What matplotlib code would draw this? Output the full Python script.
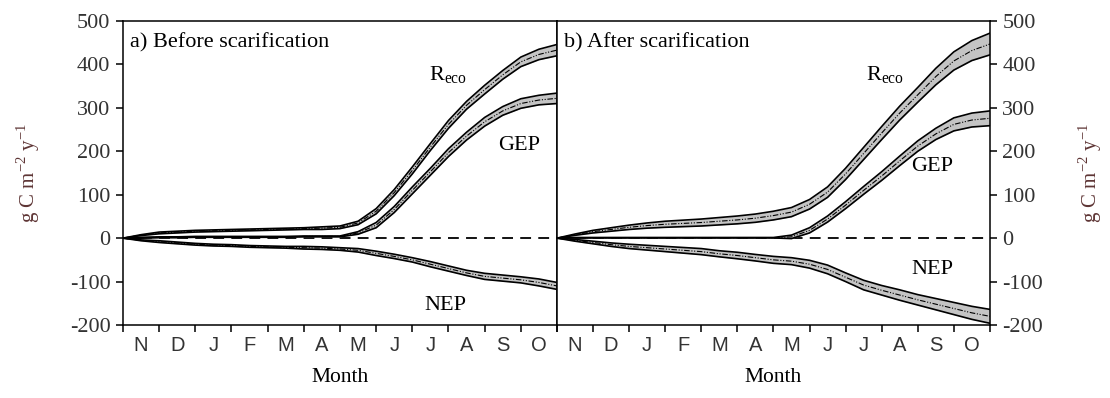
import numpy as np
import matplotlib
matplotlib.use("Agg")
import matplotlib.pyplot as plt

plt.rcParams['mathtext.fontset'] = 'custom'
plt.rcParams['mathtext.rm'] = 'Liberation Serif'
plt.rcParams['axes.unicode_minus'] = False

# month axis, half-month steps from start of November
months = np.arange(0, 12.5, 0.5)
month_labels = ['N', 'D', 'J', 'F', 'M', 'A', 'M', 'J', 'J', 'A', 'S', 'O']

# a) before scarification: cumulative mean and half-width of band
reco_a = [0, 7, 12, 14, 16, 17, 18, 19, 20, 21, 22, 23, 25, 35, 62, 105, 156,
          210, 262, 306, 342, 376, 406, 423, 433]
reco_a_err = [0, 1, 2, 2, 2, 2, 2, 2, 2, 2, 2, 3, 3, 4, 6, 7, 8, 8, 9, 9, 10,
              10, 11, 12, 13]
gep_a = [0, 1, 2, 2, 3, 3, 3, 3, 3, 3, 4, 4, 4, 12, 30, 66, 110, 153, 197,
         235, 268, 293, 310, 318, 322]
gep_a_err = [0, 1, 1, 1, 1, 1, 1, 1, 1, 1, 1, 1, 1, 3, 6, 7, 8, 8, 9, 9, 10,
             10, 11, 11, 12]
nep_a = [0, -5, -8, -11, -14, -16, -17, -19, -20, -21, -22, -23, -25, -28,
         -35, -42, -50, -60, -70, -80, -88, -92, -96, -102, -110]
nep_a_err = [0, 1, 2, 2, 2, 2, 2, 2, 2, 2, 3, 3, 3, 4, 5, 5, 5, 6, 6, 6, 7,
             7, 7, 8, 8]

# b) after scarification
reco_b = [0, 8, 15, 20, 25, 29, 32, 34, 36, 39, 42, 46, 52, 60, 78, 106, 148,
          195, 242, 288, 330, 372, 408, 432, 447]
reco_b_err = [0, 1.5, 3, 4, 5, 6, 7, 7.5, 8, 8.5, 9, 9.5, 10, 10.5, 11, 12,
              13, 14, 15, 16, 17, 19, 21, 23, 25]
gep_b = [0, 1, 1, 1, 1, 1, 1, 1, 1, 1, 1, 1, 1, 3, 18, 44, 76, 110, 143, 178,
         212, 240, 262, 272, 276]
gep_b_err = [0, 0.5, 0.5, 0.5, 0.5, 0.5, 0.5, 0.5, 0.5, 0.5, 0.5, 0.5, 0.5,
             4, 6, 7, 8, 9, 10, 11, 12, 13, 15, 16, 17]
nep_b = [0, -5, -10, -15, -19, -22, -25, -28, -31, -36, -40, -45, -50, -53,
         -60, -72, -90, -108, -120, -131, -142, -152, -162, -172, -180]
nep_b_err = [0, 2, 3, 4, 5, 5.5, 6, 6.5, 7, 7, 7.5, 7.5, 8, 8, 9, 10, 10, 11,
             11, 12, 12, 13, 14, 15, 16]

serif = 'Liberation Serif'
sans = 'Liberation Sans'
tick_col = '#333333'
label_col = '#5e3535'


def band(ax, mean, err):
    mean = np.array(mean, dtype=float)
    err = np.array(err, dtype=float)
    ax.fill_between(months, mean - err, mean + err, color='#c4c4c4', lw=0)
    ax.plot(months, mean + err, color='black', lw=1.2)
    ax.plot(months, mean - err, color='black', lw=1.2)
    ax.plot(months, mean, color='black', lw=0.8,
            linestyle=(0, (5, 1.5, 1, 1.5, 1, 1.5)))


fig = plt.figure(figsize=(11.1, 3.98), dpi=100)
ax1 = fig.add_axes([0.1108, 0.1834, 0.391, 0.7638])
ax2 = fig.add_axes([0.5018, 0.1834, 0.390, 0.7638])

for ax, series, title in [
        (ax1, [(reco_a, reco_a_err), (gep_a, gep_a_err), (nep_a, nep_a_err)],
         'a) Before scarification'),
        (ax2, [(reco_b, reco_b_err), (gep_b, gep_b_err), (nep_b, nep_b_err)],
         'b) After scarification')]:
    ax.axhline(0, color='black', lw=1.3, linestyle=(0, (6, 4)), zorder=1)
    for mean, err in series:
        band(ax, mean, err)
    ax.set_xlim(0, 12)
    ax.set_ylim(-200, 500)
    ax.set_xticks(np.arange(0, 13))
    ax.set_xticklabels([])
    ax.set_xticks(np.arange(0.5, 12), minor=True)
    ax.set_xticklabels(month_labels, minor=True, fontfamily=sans,
                       fontsize=14.5, color=tick_col)
    ax.tick_params(axis='x', which='major', direction='out', length=5,
                   width=1.1)
    ax.tick_params(axis='x', which='minor', length=0, pad=8)
    ax.set_yticks(np.arange(-200, 501, 100))
    for sp in ax.spines.values():
        sp.set_linewidth(1.1)
    ax.set_xlabel('Month', fontfamily=serif, fontsize=15.5, labelpad=9)
    ax.text(0.016, 0.93, title, transform=ax.transAxes, fontfamily=serif,
            fontsize=16, va='center', ha='left')

ax1.tick_params(axis='y', direction='out', length=5, width=1.1,
                labelsize=16, labelcolor=tick_col, pad=4)
for t in ax1.get_yticklabels():
    t.set_fontfamily(serif)
ax1.set_ylabel('g C m$^{\\mathrm{-2}}$ y$^{\\mathrm{-1}}$', fontfamily=serif,
               fontsize=15, color=label_col, labelpad=20)

ax2.yaxis.tick_right()
ax2.yaxis.set_label_position('right')
ax2.tick_params(axis='y', direction='out', length=5, width=1.1,
                labelsize=16, labelcolor=tick_col, left=False, pad=4)
for t in ax2.get_yticklabels():
    t.set_fontfamily(serif)
ax2.set_ylabel('g C m$^{\\mathrm{-2}}$ y$^{\\mathrm{-1}}$', fontfamily=serif,
               fontsize=15, color=label_col, labelpad=24, rotation=90)

# curve labels
ax1.text(9.0, 376, 'R$_{\\mathrm{eco}}$', fontfamily=serif, fontsize=16,
         ha='center', va='center')
ax1.text(10.95, 214, 'GEP', fontfamily=serif, fontsize=16, ha='center',
         va='center')
ax1.text(8.9, -154, 'NEP', fontfamily=serif, fontsize=16, ha='center',
         va='center')
ax2.text(9.1, 376, 'R$_{\\mathrm{eco}}$', fontfamily=serif, fontsize=16,
         ha='center', va='center')
ax2.text(10.4, 166, 'GEP', fontfamily=serif, fontsize=16, ha='center',
         va='center')
ax2.text(10.4, -73, 'NEP', fontfamily=serif, fontsize=16, ha='center',
         va='center')

fig.savefig('out.png', dpi=100)
